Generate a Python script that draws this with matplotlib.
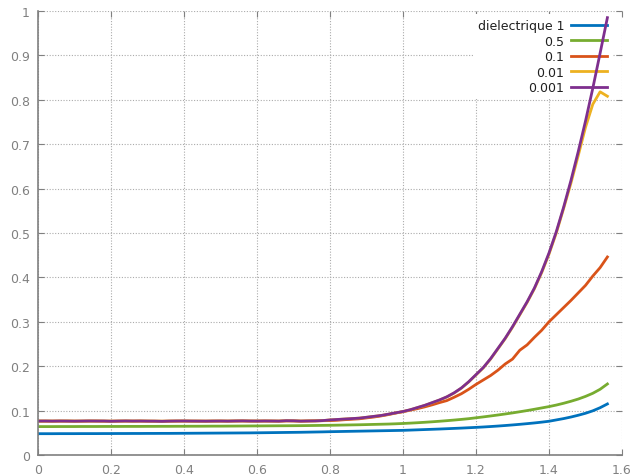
import matplotlib
matplotlib.use("Agg")
import numpy as np
import matplotlib.pyplot as plt

# ---------- données : x de 0 à 1.56, pas de 0.02 ----------
x = np.linspace(0, 1.56, 79)

eps_1 = [
    0.0480, 0.0480, 0.0480, 0.0481, 0.0481, 0.0481, 0.0482, 0.0482, 0.0482, 0.0483,
    0.0483, 0.0484, 0.0484, 0.0485, 0.0485, 0.0486, 0.0486, 0.0487, 0.0487, 0.0488,
    0.0489, 0.0490, 0.0491, 0.0492, 0.0493, 0.0494, 0.0495, 0.0496, 0.0497, 0.0498,
    0.0500, 0.0502, 0.0504, 0.0506, 0.0508, 0.0510, 0.0512, 0.0515, 0.0518, 0.0521,
    0.0525, 0.0528, 0.0531, 0.0534, 0.0537, 0.0540, 0.0543, 0.0546, 0.0549, 0.0552,
    0.0555, 0.0561, 0.0567, 0.0573, 0.0579, 0.0585, 0.0592, 0.0599, 0.0606, 0.0614,
    0.0622, 0.0631, 0.0641, 0.0652, 0.0664, 0.0677, 0.0691, 0.0706, 0.0722, 0.0740,
    0.0760, 0.0790, 0.0820, 0.0855, 0.0895, 0.0940, 0.0995, 0.1065, 0.1150,
]

eps_05 = [
    0.0640, 0.0640, 0.0640, 0.0641, 0.0641, 0.0641, 0.0642, 0.0642, 0.0642, 0.0643,
    0.0643, 0.0643, 0.0644, 0.0644, 0.0644, 0.0645, 0.0645, 0.0646, 0.0646, 0.0647,
    0.0647, 0.0648, 0.0648, 0.0649, 0.0650, 0.0650, 0.0651, 0.0652, 0.0653, 0.0654,
    0.0655, 0.0656, 0.0657, 0.0658, 0.0659, 0.0660, 0.0661, 0.0663, 0.0665, 0.0667,
    0.0669, 0.0672, 0.0675, 0.0678, 0.0681, 0.0685, 0.0689, 0.0693, 0.0697, 0.0703,
    0.0710, 0.0718, 0.0727, 0.0737, 0.0748, 0.0760, 0.0773, 0.0787, 0.0802, 0.0818,
    0.0838, 0.0858, 0.0879, 0.0901, 0.0924, 0.0948, 0.0974, 0.1001, 0.1030, 0.1060,
    0.1090, 0.1125, 0.1165, 0.1210, 0.1260, 0.1320, 0.1390, 0.1480, 0.1600,
]

eps_01 = [
    0.0762, 0.0763, 0.0762, 0.0764, 0.0763, 0.0761, 0.0763, 0.0765, 0.0764, 0.0762,
    0.0761, 0.0763, 0.0765, 0.0763, 0.0764, 0.0762, 0.0761, 0.0760, 0.0762, 0.0764,
    0.0765, 0.0763, 0.0762, 0.0761, 0.0763, 0.0764, 0.0762, 0.0765, 0.0767, 0.0764,
    0.0763, 0.0765, 0.0764, 0.0762, 0.0768, 0.0767, 0.0762, 0.0767, 0.0770, 0.0773,
    0.0775, 0.0782, 0.0795, 0.0805, 0.0815, 0.0835, 0.0855, 0.0880, 0.0910, 0.0945,
    0.0975, 0.1010, 0.1045, 0.1085, 0.1130, 0.1180, 0.1225, 0.1300, 0.1380, 0.1480,
    0.1590, 0.1690, 0.1790, 0.1910, 0.2050, 0.2160, 0.2360, 0.2480, 0.2650, 0.2810,
    0.3000, 0.3160, 0.3320, 0.3480, 0.3650, 0.3820, 0.4030, 0.4220, 0.4460,
]

eps_001 = [
    0.0766, 0.0765, 0.0764, 0.0765, 0.0766, 0.0764, 0.0763, 0.0765, 0.0766, 0.0764,
    0.0762, 0.0764, 0.0765, 0.0764, 0.0766, 0.0764, 0.0763, 0.0761, 0.0764, 0.0765,
    0.0765, 0.0764, 0.0764, 0.0763, 0.0765, 0.0765, 0.0764, 0.0766, 0.0767, 0.0765,
    0.0765, 0.0766, 0.0765, 0.0764, 0.0770, 0.0769, 0.0764, 0.0766, 0.0769, 0.0774,
    0.0790, 0.0800, 0.0810, 0.0820, 0.0830, 0.0849, 0.0869, 0.0889, 0.0918, 0.0948,
    0.0978, 0.1018, 0.1068, 0.1118, 0.1177, 0.1237, 0.1307, 0.1396, 0.1506, 0.1645,
    0.1804, 0.1963, 0.2162, 0.2390, 0.2620, 0.2878, 0.3157, 0.3436, 0.3745, 0.4108,
    0.4525, 0.5000, 0.5550, 0.6120, 0.6740, 0.7380, 0.7900, 0.8180, 0.8080,
]

eps_0001 = [
    0.0765, 0.0765, 0.0763, 0.0765, 0.0764, 0.0762, 0.0764, 0.0766, 0.0765, 0.0765,
    0.0760, 0.0764, 0.0766, 0.0764, 0.0765, 0.0763, 0.0762, 0.0758, 0.0763, 0.0765,
    0.0766, 0.0764, 0.0763, 0.0762, 0.0764, 0.0765, 0.0763, 0.0766, 0.0768, 0.0765,
    0.0764, 0.0766, 0.0765, 0.0763, 0.0772, 0.0770, 0.0763, 0.0766, 0.0768, 0.0775,
    0.0790, 0.0800, 0.0810, 0.0820, 0.0830, 0.0850, 0.0870, 0.0890, 0.0920, 0.0950,
    0.0980, 0.1020, 0.1070, 0.1120, 0.1180, 0.1240, 0.1310, 0.1400, 0.1510, 0.1650,
    0.1810, 0.1970, 0.2170, 0.2400, 0.2630, 0.2890, 0.3170, 0.3450, 0.3760, 0.4130,
    0.4550, 0.5030, 0.5580, 0.6180, 0.6830, 0.7520, 0.8260, 0.9050, 0.9850,
]

labels = ["dielectrique 1", "0.5", "0.1", "0.01", "0.001"]
series = [eps_1, eps_05, eps_01, eps_001, eps_0001]
colors = ["#0072bd", "#77ac30", "#d95319", "#edb120", "#7e2f8e"]

# ---------- figure ----------
fig = plt.figure(figsize=(6.34, 4.77), dpi=100)
ax = fig.add_axes([38 / 634, 21 / 477, 584 / 634, 444 / 477])

for y, lab, c in zip(series, labels, colors):
    ax.plot(x, y, color=c, lw=2, label=lab, zorder=2)

ax.set_xlim(0, 1.6)
ax.set_ylim(0, 1)
ax.set_xticks(np.arange(0, 1.61, 0.2))
ax.set_yticks(np.arange(0, 1.01, 0.1))
ax.set_xticklabels(["0", "0.2", "0.4", "0.6", "0.8", "1", "1.2", "1.4", "1.6"])
ax.set_yticklabels(["0", "0.1", "0.2", "0.3", "0.4", "0.5", "0.6", "0.7",
                    "0.8", "0.9", "1"])

ax.set_axisbelow(True)
ax.grid(True, color="#ababab", linestyle=(0, (1, 1.5)), lw=0.8)
for side in ("top", "right"):
    ax.spines[side].set_visible(False)
for side in ("left", "bottom"):
    ax.spines[side].set_color("#808080")
    ax.spines[side].set_linewidth(1.2)
ax.tick_params(direction="in", length=4, width=0.8, color="#808080",
               labelcolor="#808080", labelsize=9, top=True, right=True, pad=6)

# légende : texte à droite, trait à gauche ; les courbes passent par-dessus
leg = ax.legend(loc="upper right", bbox_to_anchor=(0.9914, 1.0045),
                fontsize=9, markerfirst=False,
                frameon=True, fancybox=False, edgecolor="none",
                framealpha=1, handlelength=2.9, handletextpad=0.5,
                labelspacing=0.2, borderpad=0.4, borderaxespad=0.4)
leg.set_zorder(1)
for t in leg.get_texts():
    t.set_ha("right")
    t.set_color("#202020")

fig.savefig("out.png", dpi=100)
